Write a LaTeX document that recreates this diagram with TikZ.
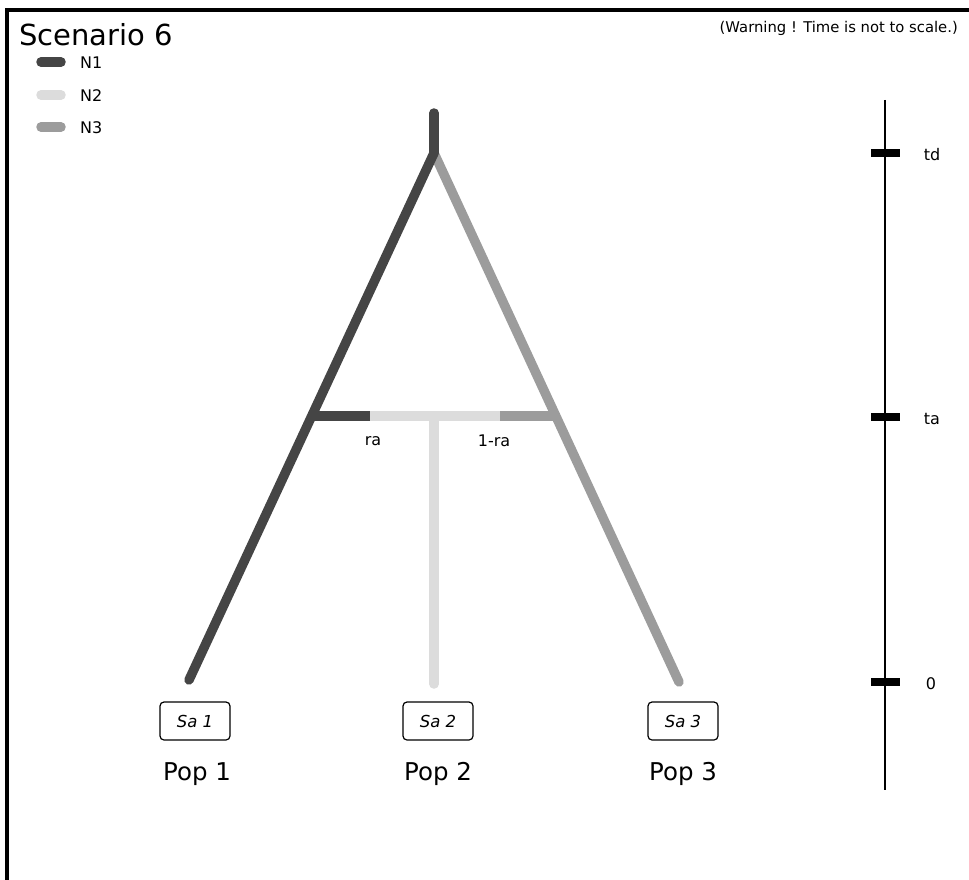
\documentclass[tikz,border=0pt]{standalone}
\usepackage{fontspec}
\setmainfont{DejaVu Sans}
\definecolor{cone}{HTML}{454545}
\definecolor{ctwo}{HTML}{DCDCDC}
\definecolor{cthree}{HTML}{9C9C9C}
\begin{document}
\begin{tikzpicture}[x=1pt,y=-1pt,
  br/.style={line width=9.5pt, line cap=round},
  nonebr/.style={br, draw=cone},
  ntwobr/.style={br, draw=ctwo},
  nthreebr/.style={br, draw=cthree},
  legtxt/.style={font=\fontsize{16}{18}\selectfont, anchor=west, inner sep=0pt},
  sabox/.style={draw, rounded corners=4pt, line width=1.2pt, minimum width=70pt, minimum height=38pt, inner sep=2pt, font=\fontsize{16.5}{18}\selectfont\itshape},
  poptxt/.style={font=\fontsize{24.5}{27}\selectfont, inner sep=0pt},
  tick/.style={fill=black, minimum width=29pt, minimum height=8pt, inner sep=0pt},
  ticktxt/.style={font=\fontsize{16}{18}\selectfont, inner sep=0pt},
  smalltxt/.style={font=\fontsize{16}{18}\selectfont, inner sep=0pt}
]
\useasboundingbox (0,0) rectangle (969,880);
% frame
\draw[line width=3.5pt, line cap=rect] (7,880) -- (7,10) -- (969,10);
% titles
\node[anchor=base west, inner sep=0pt, font=\fontsize{29}{32}\selectfont] (title) at (19,46) {Scenario 6};
\node[anchor=base east, inner sep=0pt, font=\fontsize{14.8}{17}\selectfont] (warn) at (958,33) {(Warning ! Time is not to scale.)};
% legend
\coordinate (l1a) at (41,62); \coordinate (l1b) at (61,62);
\coordinate (l2a) at (41,95); \coordinate (l2b) at (61,95);
\coordinate (l3a) at (41,127); \coordinate (l3b) at (61,127);
\draw[nonebr] (l1a) -- (l1b);
\draw[ntwobr] (l2a) -- (l2b);
\draw[nthreebr] (l3a) -- (l3b);
\node[legtxt] (ln1) at (80,63) {N1};
\node[legtxt] (ln2) at (80,96) {N2};
\node[legtxt] (ln3) at (80,128) {N3};
% tree coordinates
\coordinate (top) at (434,113);
\coordinate (root) at (434,153);
\coordinate (p1) at (189,680);
\coordinate (p2) at (434,684);
\coordinate (p3) at (679,682);
\coordinate (al) at (311,416);
\coordinate (ar) at (557,416);
\coordinate (am) at (434,416);
\coordinate (ald) at (370,416);
\coordinate (ard) at (500,416);
% branches
\draw[nthreebr] (root) -- (p3);
\draw[nonebr] (root) -- (p1);
\draw[nonebr] (top) -- (root);
\draw[ntwobr] (am) -- (p2);
\draw[br, line cap=butt, draw=ctwo] (ald) -- (ard);
\draw[br, line cap=butt, draw=cone] (al) -- (ald);
\draw[br, line cap=butt, draw=cthree] (ard) -- (ar);
\node[smalltxt] (ra) at (373,441) {ra};
\node[smalltxt] (ra2) at (494,441) {1-ra};
% samples
\node[sabox] (sa1) at (195,721) {Sa 1};
\node[sabox] (sa2) at (438,721) {Sa 2};
\node[sabox] (sa3) at (683,721) {Sa 3};
\node[poptxt] (pop1) at (197,774) {Pop 1};
\node[poptxt] (pop2) at (438,774) {Pop 2};
\node[poptxt] (pop3) at (683,774) {Pop 3};
% time axis
\coordinate (axtop) at (885,100);
\coordinate (axbot) at (885,790);
\draw[line width=1.8pt] (axtop) -- (axbot);
\node[tick] (ttd) at (885,153) {};
\node[tick] (tta) at (885,417) {};
\node[tick] (tz) at (885,682) {};
\node[ticktxt] (ltd) at (932,155) {td};
\node[ticktxt] (lta) at (932,419) {ta};
\node[ticktxt] (lz) at (931,684) {0};
\end{tikzpicture}
\end{document}
